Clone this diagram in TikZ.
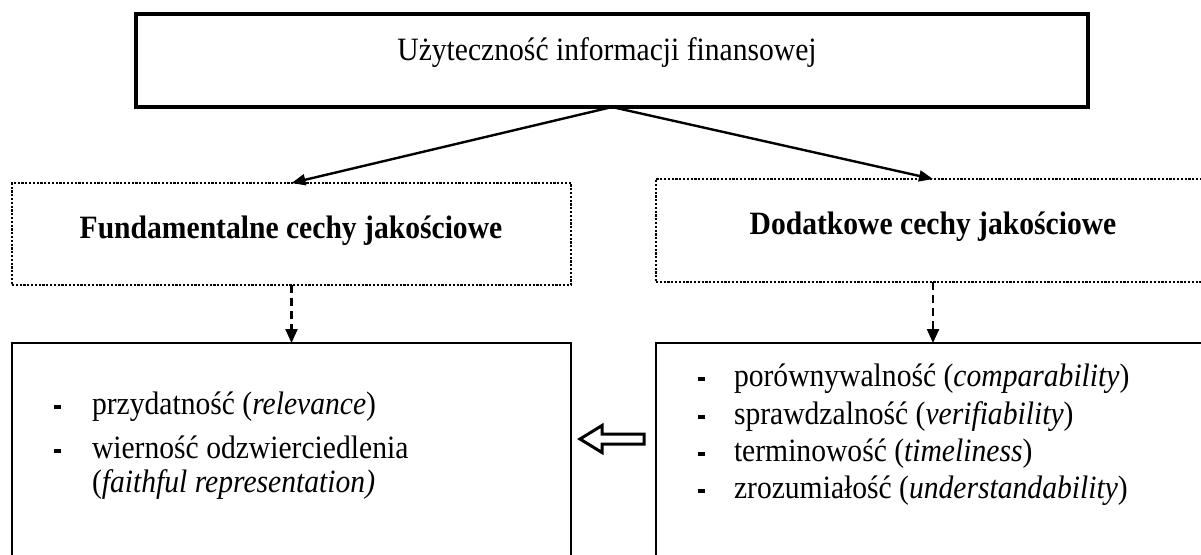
\documentclass[tikz,border=0pt]{standalone}
\usepackage{graphicx}
\usepackage{fontspec}
\setmainfont{Liberation Serif}
\usetikzlibrary{arrows.meta}

% text in this chart is set slightly taller than wide
\newcommand\tall[1]{\scalebox{1}[1.1]{#1}}
% short heavy dash used as list marker
\newcommand\listdash{\rule[2.6pt]{3.6pt}{1.8pt}}

\begin{document}
\begin{tikzpicture}[x=0.5pt,y=-0.5pt,
  every node/.style={font=\fontsize{14.8}{17}\selectfont, inner sep=0pt, outer sep=0pt},
  titlebox/.style={draw, line width=1.7pt, minimum width=476pt, minimum height=46.5pt},
  groupbox/.style={draw, line width=1.1pt, dash pattern=on 1.1pt off 0.8pt, minimum width=279.5pt, minimum height=51pt},
  listbox/.style={draw, line width=1.3pt, minimum width=279.5pt, minimum height=128.5pt},
  mainarrow/.style={line width=1.2pt, -{Triangle[length=7pt, width=5.5pt]}},
  dasharrow/.style={line width=1.1pt, dash pattern=on 4pt off 2.5pt, -{Triangle[length=7pt, width=6pt]}},
  bullet/.style={anchor=base west},
  item/.style={anchor=base west}]

  \useasboundingbox (0,0) rectangle (1201,554);
  \clip (0,0) rectangle (1201,554);

  % boxes
  \node[titlebox] (top) at (612,60.5) {};
  \node[groupbox] (fund) at (291.5,234) {};
  \node[groupbox, minimum width=277pt, minimum height=51.5pt] (dod) at (933,230.5) {};
  \node[listbox] (fundlist) at (291.5,471.5) {};
  \node[listbox, minimum width=277pt] (dodlist) at (933,471.5) {};

  % headings
  \node[anchor=base] (toptext) at (607,60) {\tall{Użyteczność informacji finansowej}};
  \node[anchor=base] (fundtext) at (291,238) {\tall{\textbf{Fundamentalne cechy jakościowe}}};
  \node[anchor=base] (dodtext) at (933,234) {\tall{\textbf{Dodatkowe cechy jakościowe}}};

  % connectors
  \draw[mainarrow] (top.south) -- (fund.north);
  \draw[mainarrow] (top.south) -- (dod.north);
  \draw[dasharrow] (fund.south) -- (fundlist.north);
  \draw[dasharrow] (dod.south) -- (dodlist.north);

  % hollow arrow between the two lists
  \draw[line width=1.5pt, fill=white, line join=miter]
    (644,434) -- (602,434) -- (602,425.5) -- (580,439) -- (602,452.5) -- (602,444) -- (644,444) -- cycle;

  % fundamental characteristics
  \node[bullet] (fb1) at (54,414) {\listdash};
  \node[item] (fi1) at (92,414) {\tall{przydatność (\textit{relevance})}};
  \node[bullet] (fb2) at (54,458) {\listdash};
  \node[item] (fi2) at (92,458) {\tall{wierność odzwierciedlenia}};
  \node[item] (fi3) at (92,492) {\tall{(\textit{faithful representation)}}};

  % enhancing characteristics
  \node[bullet] (db1) at (698,386) {\listdash};
  \node[item] (di1) at (734,386) {\tall{porównywalność (\textit{comparability})}};
  \node[bullet] (db2) at (698,424) {\listdash};
  \node[item] (di2) at (734,424) {\tall{sprawdzalność (\textit{verifiability})}};
  \node[bullet] (db3) at (698,461) {\listdash};
  \node[item] (di3) at (734,461) {\tall{terminowość (\textit{timeliness})}};
  \node[bullet] (db4) at (698,498) {\listdash};
  \node[item] (di4) at (734,498) {\tall{zrozumiałość (\textit{understandability})}};
\end{tikzpicture}
\end{document}
